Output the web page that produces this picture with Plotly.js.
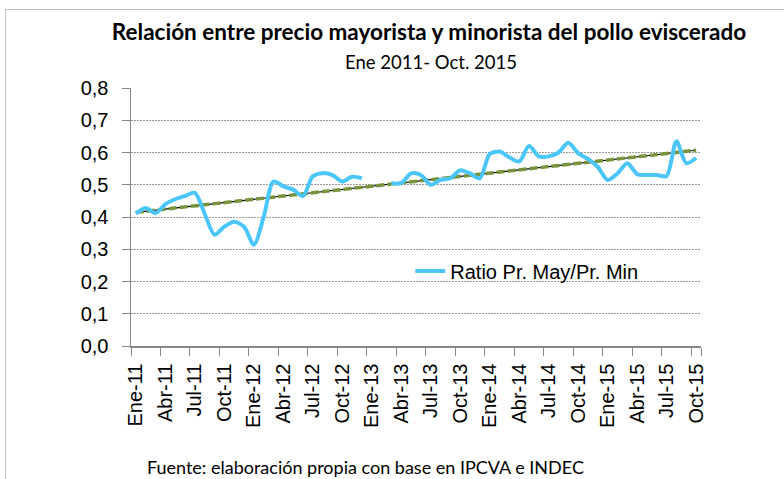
<!DOCTYPE html>
<html>
<head>
<meta charset="utf-8">
<script src="https://cdn.plot.ly/plotly-3.0.1.min.js"></script>
<style>
  html, body { margin: 0; padding: 0; background: #fff; overflow: hidden; }
  #frame { position: absolute; left: 5px; top: 9px; width: 820px; height: 520px; border: 1px solid #BFBFBF; pointer-events: none; z-index: 5; }
  #chart { position: absolute; left: 0; top: 0; width: 784px; height: 479px; }
</style>
</head>
<body>
<div id="chart"></div>
<div id="frame"></div>
<script>
// Months Ene-2011 .. Oct-2015
const months = [
  'Ene-11','Feb-11','Mar-11','Abr-11','May-11','Jun-11','Jul-11','Ago-11','Sep-11','Oct-11','Nov-11','Dic-11',
  'Ene-12','Feb-12','Mar-12','Abr-12','May-12','Jun-12','Jul-12','Ago-12','Sep-12','Oct-12','Nov-12','Dic-12',
  'Ene-13','Feb-13','Mar-13','Abr-13','May-13','Jun-13','Jul-13','Ago-13','Sep-13','Oct-13','Nov-13','Dic-13',
  'Ene-14','Feb-14','Mar-14','Abr-14','May-14','Jun-14','Jul-14','Ago-14','Sep-14','Oct-14','Nov-14','Dic-14',
  'Ene-15','Feb-15','Mar-15','Abr-15','May-15','Jun-15','Jul-15','Ago-15','Sep-15','Oct-15'
];

// Ratio precio mayorista / precio minorista
const ratio = [
  0.410, 0.428, 0.412, 0.440, 0.455, 0.465, 0.475, 0.410, 0.345, 0.370, 0.385, 0.370,
  0.314, 0.400, 0.510, 0.495, 0.485, 0.465, 0.526, 0.536, 0.530, 0.510, 0.525, 0.520,
  null,  null,  0.505, 0.505, 0.535, 0.530, 0.500, 0.515, 0.520, 0.545, 0.535, 0.520,
  0.595, 0.603, 0.585, 0.572, 0.620, 0.588, 0.588, 0.600, 0.630, 0.598, 0.580, 0.555,
  0.515, 0.535, 0.567, 0.533, 0.530, 0.530, 0.527, 0.635, 0.567, 0.583
];

// Tick labels shown on the x axis (every quarter)
const tickLabels = ['Ene-11','Abr-11','Jul-11','Oct-11','Ene-12','Abr-12','Jul-12','Oct-12','Ene-13','Abr-13',
  'Jul-13','Oct-13','Ene-14','Abr-14','Jul-14','Oct-14','Ene-15','Abr-15','Jul-15','Oct-15'];

const seriesName = 'Ratio Pr. May/Pr. Min';
const titleText = 'Relación entre precio mayorista y minorista del pollo eviscerado';
const subtitleText = 'Ene 2011- Oct. 2015';
const sourceText = 'Fuente: elaboración propia con base en IPCVA e INDEC';

// Linear trend (least squares on available points, x = month index)
let n = 0, sx = 0, sy = 0, sxx = 0, sxy = 0;
ratio.forEach((v, i) => { if (v !== null) { n++; sx += i; sy += v; sxx += i * i; sxy += i * v; } });
const slope = (n * sxy - sx * sy) / (n * sxx - sx * sx);
const intercept = (sy - slope * sx) / n;
const trend = months.map((m, i) => intercept + slope * i);

const sansFont = 'Liberation Sans, Arial, sans-serif';
const calibriLike = 'Lato, Carlito, Calibri, sans-serif';

const traces = [
  { x: months, y: trend, type: 'scatter', mode: 'lines', showlegend: false, hoverinfo: 'skip',
    line: { color: '#000000', width: 1.2 } },
  { x: months, y: trend, type: 'scatter', mode: 'lines', showlegend: false, hoverinfo: 'skip',
    line: { color: '#77933C', width: 3.5, dash: '8px,3px' } },
  { x: months, y: ratio, type: 'scatter', mode: 'lines', name: seriesName, connectgaps: false,
    line: { color: '#4BC6FA', width: 4, shape: 'spline', smoothing: 0.8 } }
];

const layout = {
  width: 784, height: 479,
  margin: { l: 131, r: 83, t: 88, b: 133 },
  paper_bgcolor: '#fff', plot_bgcolor: '#fff',
  separators: ',.',
  showlegend: true,
  title: {
    text: '<b>' + titleText + '</b>',
    font: { family: calibriLike, size: 22.5, color: '#000' },
    x: 429 / 784, xanchor: 'center', xref: 'container',
    y: 1 - 32 / 479, yanchor: 'middle', yref: 'container'
  },
  xaxis: {
    type: 'category', range: [-0.5, 57.5],
    tickmode: 'array', tickvals: tickLabels, ticktext: tickLabels,
    tickson: 'boundaries',
    tickangle: -90, tickfont: { family: sansFont, size: 20, color: '#000' },
    ticklabelstandoff: 8,
    ticks: 'outside', ticklen: 8, tickcolor: '#868686', tickwidth: 1,
    showline: true, linecolor: '#868686', linewidth: 1.5,
    showgrid: false, zeroline: false, fixedrange: true
  },
  yaxis: {
    range: [0, 0.8], dtick: 0.1, tick0: 0, tickformat: '.1f',
    tickfont: { family: sansFont, size: 20, color: '#000' },
    ticklabelstandoff: 9,
    ticks: 'outside', ticklen: 8, tickcolor: '#868686',
    showline: true, linecolor: '#868686', linewidth: 1.5,
    showgrid: true, gridcolor: '#9A9A9A', griddash: '2px,1px', gridwidth: 1,
    zeroline: false, fixedrange: true
  },
  legend: {
    x: 0.49, y: 0.291, xanchor: 'left', yanchor: 'middle',
    bgcolor: 'rgba(255,255,255,0)', borderwidth: 0,
    font: { family: sansFont, size: 20, color: '#000' }
  },
  annotations: [
    { text: subtitleText, xref: 'paper', yref: 'paper', x: 0.526, y: (346 - 62) / 257.7,
      xanchor: 'center', yanchor: 'middle', showarrow: false,
      font: { family: calibriLike, size: 18.5, color: '#000' } },
    { text: sourceText, xref: 'paper', yref: 'paper', x: (145 - 131) / 570, y: (346 - 467) / 257.7,
      xanchor: 'left', yanchor: 'middle', showarrow: false,
      font: { family: calibriLike, size: 18, color: '#000' } }
  ]
};

Plotly.newPlot('chart', traces, layout, { displayModeBar: false, staticPlot: true });
</script>
</body>
</html>
